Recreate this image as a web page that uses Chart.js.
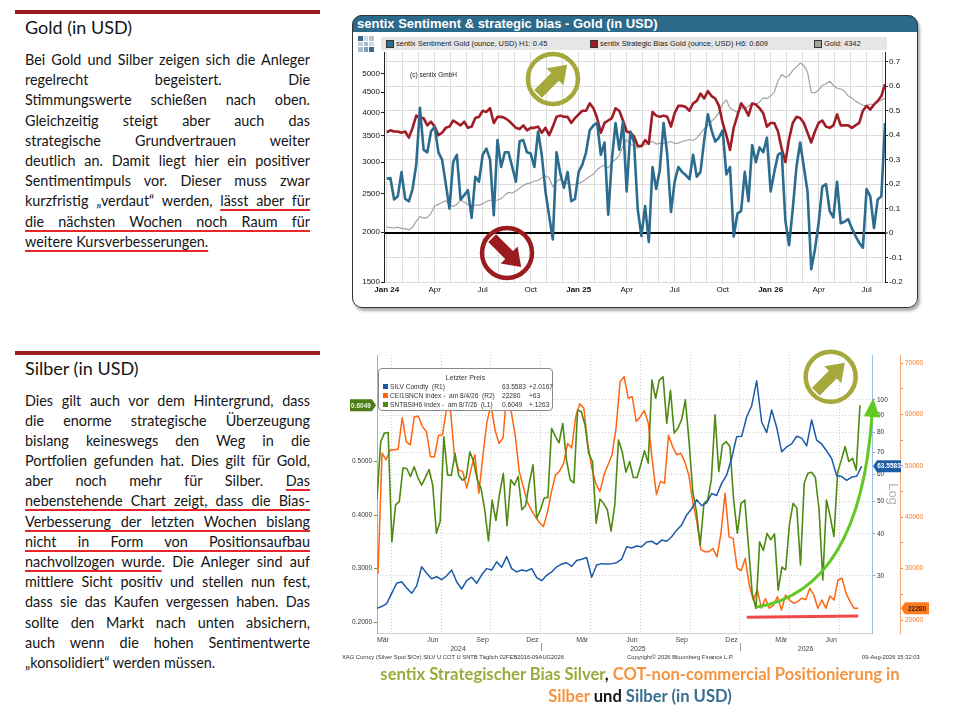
<!DOCTYPE html>
<html lang="de">
<head>
<meta charset="utf-8">
<title>sentix – Gold und Silber</title>
<script src="https://cdn.jsdelivr.net/npm/chart.js@4.4.1/dist/chart.umd.min.js"></script>
<style>
  html, body { margin: 0; padding: 0; background: #fff; }
  body { width: 974px; height: 724px; position: relative; overflow: hidden; font-family: Lato, "Open Sans", sans-serif; color: #151515; }
  .abs { position: absolute; }
  .rule { position: absolute; left: 15px; width: 305px; height: 3.5px; background: #9c1c22; }
  .head { position: absolute; left: 25px; font-size: 18px; line-height: 22px; }
  .para { position: absolute; left: 25px; width: 285px; font-size: 14.4px; }
  .para div { height: 20.2px; line-height: 20.2px; text-align: justify; text-align-last: justify; overflow: hidden; }
  .para div.last { text-align-last: left; }
  .u { text-decoration: underline; text-decoration-color: #e8262b; text-decoration-thickness: 1.6px; text-underline-offset: 3px; }

  #goldPanel { left: 352px; top: 15px; width: 566px; height: 293px; box-sizing: border-box; border: 1.5px solid #333; border-radius: 10px; box-shadow: 2px 3px 3px #aaa; }
  #goldTitle { left: 352px; top: 15px; width: 566px; height: 17px; background: #2b6a8b; border-radius: 10px 10px 0 0; color: #fff; font: bold 13px "Liberation Sans", Arial, sans-serif; line-height: 17px; text-indent: 5px; }
  #goldLegend { left: 381px; top: 37px; width: 506px; height: 13px; background: #e6e6e6; font: 7.5px "Liberation Sans", Arial, sans-serif; color: #222; }
  #goldLegend span { position: absolute; top: 0; line-height: 13px; white-space: nowrap; }
  #goldLegend i { position: absolute; top: 3px; width: 6px; height: 6px; border: 0.8px solid #333; }
  .ico { position: absolute; width: 4.5px; height: 4.5px; }
  #copyNote { left: 410px; top: 71px; font: 6.5px "Liberation Sans", Arial, sans-serif; color: #222; }

  #bbgLegend { left: 378px; top: 368px; width: 175px; height: 43px; box-sizing: border-box; border: 1px solid #8a8a8a; border-radius: 4px; background: rgba(255,255,255,0.92); font: 6.6px "Liberation Sans", Arial, sans-serif; color: #333; }
  #bbgLegend span { position: absolute; white-space: pre; line-height: 8px; }
  #bbgLegend i { position: absolute; width: 5px; height: 5px; }
  .foot { position: absolute; top: 654px; font: 5.8px "Liberation Sans", Arial, sans-serif; color: #333; white-space: nowrap; }
  #caption { left: 340px; top: 663px; width: 600px; text-align: center; font-weight: bold; font-size: 16.6px; line-height: 22px; }
</style>
</head>
<body>

<div class="rule" style="top:10px"></div>
<div class="head" style="top:15.5px">Gold (in USD)</div>
<div class="para" id="paraGold" style="top:50px"></div>

<div class="rule" style="top:351px"></div>
<div class="head" style="top:357px">Silber (in USD)</div>
<div class="para" id="paraSilver" style="top:390.5px"></div>

<div class="abs" id="goldTitle">sentix Sentiment &amp; strategic bias - Gold (in USD)</div>
<div class="abs" id="goldPanel"></div>
<div class="abs" id="goldIcon"></div>
<canvas class="abs" id="goldCanvas" width="564" height="273" style="left:353px; top:33px;"></canvas>
<div class="abs" id="goldLegend">
  <i style="left:5px; background:#2c6c8e"></i><span style="left:15px">sentix Sentiment Gold (ounce, USD) H1: 0.45</span>
  <i style="left:209px; background:#a11d26"></i><span style="left:219px">sentix Strategic Bias Gold (ounce, USD) H6: 0.609</span>
  <i style="left:433px; background:#a3a3a3"></i><span style="left:443px">Gold: 4342</span>
</div>
<div class="abs" id="copyNote">(c) sentix GmbH</div>

<canvas class="abs" id="silverCanvas" width="605" height="311" style="left:340px; top:345px;"></canvas>
<div class="abs" id="bbgLegend">
  <span style="left:0; width:173px; top:5px; text-align:center; font-size:7px">Letzter Preis</span>
  <i style="left:4px; top:15px; background:#1b5aa8"></i><span style="left:11px; top:14px">SILV Comdty  (R1)</span>
  <span style="left:123px; top:14px">63.5583</span><span style="left:150px; top:14px">+2.0167</span>
  <i style="left:4px; top:24px; background:#ff6411"></i><span style="left:11px; top:23px">CEI1SNCN Index -  am 8/4/26  (R2)</span>
  <span style="left:123px; top:23px">22280</span><span style="left:150px; top:23px">+63</span>
  <i style="left:4px; top:33px; background:#4e8a12"></i><span style="left:11px; top:32px">SNTBSIH6 Index -  am 8/7/26  (L1)</span>
  <span style="left:123px; top:32px">0.6049</span><span style="left:150px; top:32px">+.1263</span>
</div>
<div class="foot" style="left:342px">XAG Curncy (Silver Spot  $/Oz) SILV U COT U SNTB Täglich 02FEB2016-09AUG2026</div>
<div class="foot" style="left:627px">Copyright© 2026 Bloomberg Finance L.P.</div>
<div class="foot" style="left:862px">09-Aug-2026 15:32:03</div>
<div class="abs" id="caption"><span style="color:#9aab3b">sentix Strategischer Bias Silver</span>, <span style="color:#f29440">COT-non-commercial Positionierung in</span><br><span style="color:#f29440">Silber</span> und <span style="color:#3b6e90">Silber (in USD)</span></div>

<script>
// ---------- Texte ----------
const textGold = [
  'Bei Gold und Silber zeigen sich die Anleger',
  'regelrecht begeistert. Die',
  'Stimmungswerte schießen nach oben.',
  'Gleichzeitig steigt aber auch das',
  'strategische Grundvertrauen weiter',
  'deutlich an. Damit liegt hier ein positiver',
  'Sentimentimpuls vor. Dieser muss zwar',
  'kurzfristig „verdaut“ werden, <span class="u">lässt aber für</span>',
  '<span class="u">die nächsten Wochen noch Raum für</span>',
  '<span class="u">weitere Kursverbesserungen.</span>'
];
const textSilver = [
  'Dies gilt auch vor dem Hintergrund, dass',
  'die enorme strategische Überzeugung',
  'bislang keineswegs den Weg in die',
  'Portfolien gefunden hat. Dies gilt für Gold,',
  'aber noch mehr für Silber. <span class="u">Das</span>',
  '<span class="u">nebenstehende Chart zeigt, dass die Bias-</span>',
  '<span class="u">Verbesserung der letzten Wochen bislang</span>',
  '<span class="u">nicht in Form von Positionsaufbau</span>',
  '<span class="u">nachvollzogen wurde</span>. Die Anleger sind auf',
  'mittlere Sicht positiv und stellen nun fest,',
  'dass sie das Kaufen vergessen haben. Das',
  'sollte den Markt nach unten absichern,',
  'auch wenn die hohen Sentimentwerte',
  '„konsolidiert“ werden müssen.'
];

// ---------- Gold: wöchentliche Werte ab Jan 2024 ----------
const goldWeekStep = 12 / 52;          // Monate je Woche
const goldTickMonths = [0, 3, 6, 9, 12, 15, 18, 21, 24, 27, 30];
const goldTickLabels = ['Jan 24', 'Apr', 'Jul', 'Oct', 'Jan 25', 'Apr', 'Jul', 'Oct', 'Jan 26', 'Apr', 'Jul'];
const goldLeftTicks = [1500, 2000, 2500, 3000, 3500, 4000, 4500, 5000];
const goldRightTicks = [-0.2, -0.1, 0, 0.1, 0.2, 0.3, 0.4, 0.5, 0.6, 0.7];

const sentimentGold = [
  0.222, 0.225, 0.137, 0.15, 0.249, 0.14, 0.13, 0.18, 0.28, 0.512,
  0.34, 0.33, 0.415, 0.435, 0.33, 0.30, 0.20, 0.10, 0.29, 0.32,
  0.137, 0.155, 0.175, 0.062, 0.23, 0.21, 0.32, 0.345, 0.30, 0.073,
  0.38, 0.27, 0.33, 0.33, 0.27, 0.21, 0.375, 0.38, 0.33, 0.325,
  0.27, 0.415, 0.32, 0.17, 0.07, -0.026, 0.33, 0.245, 0.185, 0.25,
  0.13, 0.14, 0.25, 0.28, 0.33, 0.42, 0.44, 0.45, 0.32, 0.37,
  0.075, 0.30, 0.45, 0.34, 0.455, 0.17, 0.415, 0.37, 0.097, -0.012,
  0.11, -0.036, 0.27, 0.18, 0.26, 0.45, 0.32, 0.086, 0.21, 0.27,
  0.25, 0.237, 0.22, 0.32, 0.23, 0.25, 0.38, 0.485, 0.42, 0.374,
  0.39, 0.42, 0.24, 0.27, -0.014, 0.08, 0.09, 0.25, 0.13, 0.36,
  0.29, 0.35, 0.33, 0.39, 0.17, 0.25, 0.32, 0.33, 0.05, -0.05,
  0.10, 0.27, 0.37, 0.27, 0.17, -0.148, -0.067, 0.04, 0.19, 0.20,
  0.09, 0.064, 0.21, 0.04, 0.046, 0.057, 0.02, -0.012, -0.04, -0.06,
  0.18, 0.15, 0.02, 0.137, 0.15, 0.45
];
const biasGold = [
  0.412, 0.42, 0.415, 0.415, 0.41, 0.415, 0.39, 0.43, 0.48, 0.47,
  0.47, 0.44, 0.455, 0.435, 0.40, 0.41, 0.43, 0.435, 0.46, 0.45,
  0.44, 0.455, 0.43, 0.435, 0.47, 0.475, 0.50, 0.495, 0.51, 0.45,
  0.475, 0.475, 0.47, 0.46, 0.445, 0.43, 0.425, 0.44, 0.42, 0.43,
  0.43, 0.435, 0.41, 0.43, 0.40, 0.435, 0.475, 0.48, 0.475, 0.475,
  0.45, 0.47, 0.485, 0.50, 0.50, 0.53, 0.51, 0.47, 0.41, 0.45,
  0.46, 0.47, 0.51, 0.50, 0.46, 0.415, 0.41, 0.395, 0.357, 0.355,
  0.38, 0.365, 0.495, 0.48, 0.475, 0.48, 0.475, 0.435, 0.49, 0.52,
  0.52, 0.515, 0.50, 0.53, 0.54, 0.57, 0.55, 0.58, 0.56, 0.55,
  0.52, 0.45, 0.40, 0.34, 0.43, 0.48, 0.53, 0.51, 0.48, 0.53,
  0.525, 0.51, 0.49, 0.435, 0.45, 0.45, 0.415, 0.345, 0.29, 0.385,
  0.45, 0.475, 0.47, 0.45, 0.41, 0.37, 0.415, 0.45, 0.46, 0.435,
  0.43, 0.44, 0.485, 0.44, 0.44, 0.44, 0.43, 0.44, 0.45, 0.50,
  0.52, 0.505, 0.525, 0.54, 0.56, 0.609
];
const goldPrice = [
  2060, 2055, 2050, 2060, 2045, 2040, 2030, 2060, 2130, 2190,
  2170, 2180, 2230, 2330, 2350, 2380, 2400, 2350, 2320, 2350,
  2410, 2380, 2350, 2330, 2340, 2340, 2360, 2390, 2410, 2400,
  2410, 2430, 2480, 2520, 2510, 2540, 2580, 2620, 2650, 2660,
  2690, 2700, 2740, 2770, 2740, 2600, 2680, 2720, 2670, 2650,
  2630, 2640, 2650, 2680, 2720, 2760, 2800, 2870, 2920, 2950,
  2900, 2990, 3050, 3120, 3300, 3420, 3320, 3300, 3250, 3300,
  3320, 3350, 3380, 3330, 3350, 3340, 3360, 3380, 3340, 3350,
  3380, 3400, 3420, 3400, 3450, 3540, 3640, 3700, 3800, 3880,
  4000, 4200, 4300, 4100, 4050, 4000, 4100, 4080, 4150, 4200,
  4180, 4250, 4350, 4330, 4400, 4500, 4800, 4980, 4900, 4950,
  5100, 5200, 5320, 5250, 5050, 4500, 4480, 4550, 4680, 4720,
  4790, 4680, 4600, 4580, 4520, 4400, 4350, 4270, 4220, 4170,
  4150, 4200, 4180, 4250, 4300, 4342
];

// ---------- Silber (Monate ab Jan 2024) ----------
const silverStart = 2.12, silverStep = 0.3012;
const silverPrice = [
  24.0, 24.3, 24.8, 26.6, 28.5, 28.8, 27.6, 26.6, 28.0, 31.9,
  30.5, 29.4, 29.8, 29.2, 30.0, 31.2, 28.8, 27.4, 29.0, 29.7,
  28.5, 30.2, 31.5, 31.2, 33.0, 31.8, 34.2, 31.5, 30.8, 31.2,
  31.0, 31.5, 29.6, 29.0, 30.1, 30.8, 31.9, 32.5, 32.8, 32.0,
  33.3, 33.6, 34.0, 29.7, 32.3, 32.6, 32.5, 32.6, 32.8, 33.6,
  36.6, 36.3, 36.8, 36.6, 37.8, 38.0, 37.2, 38.3, 38.0, 39.2,
  41.0, 42.5, 45.5, 47.5, 50.5, 48.5, 49.4, 52.7, 52.0, 56.5,
  59.8, 67.1, 77.8, 78.0, 89.0, 96.0, 114.0, 86.0, 80.0, 93.4,
  83.0, 70.2, 72.5, 74.0, 78.0, 77.0, 73.0, 87.2, 76.0, 74.0,
  70.5, 67.0, 59.5, 59.2, 57.7, 59.0, 59.3, 63.5583
];
const cotStart = 2.20, cotStep = 0.2431;
const cotSilver = [
  29000, 52500, 51200, 53100, 53100, 53300, 59400, 54750, 54100, 59600,
  59700, 57700, 56700, 51800, 51800, 56000, 56100, 61300, 60600, 51500,
  49200, 48900, 45700, 49200, 52200, 44700, 52000, 58600, 61900, 57000,
  54400, 55500, 65500, 60600, 56000, 48900, 46000, 43000, 41400, 40100,
  39000, 38200, 41000, 45000, 48250, 49000, 50500, 54400, 53500, 59600,
  62100, 61300, 54100, 49600, 46500, 45000, 48250, 50250, 52200, 57400,
  66400, 67400, 63200, 63500, 58650, 59600, 60800, 58300, 50900, 44400,
  47000, 46600, 56000, 53800, 52200, 52500, 50900, 48300, 43000, 39200,
  33700, 33300, 33300, 33900, 32300, 36900, 44700, 36200, 35900, 30100,
  29600, 32000, 26800, 23900, 25900, 22300, 24200, 22300, 22900, 24550,
  21960, 24880, 23900, 23250, 23580, 24230, 24000, 26180, 24880, 22280,
  23900, 22280, 24690, 23900, 27800, 28120, 25190, 23580, 22280, 22280
];
const biasStart = 2.14, biasStep = 0.2238;
const biasSilver = [
  0.43, 0.537, 0.553, 0.554, 0.35, 0.419, 0.425, 0.488, 0.487, 0.472,
  0.49, 0.47, 0.456, 0.47, 0.485, 0.456, 0.366, 0.388, 0.546, 0.475,
  0.474, 0.515, 0.474, 0.465, 0.47, 0.518, 0.50, 0.466, 0.45, 0.41,
  0.352, 0.428, 0.39, 0.44, 0.478, 0.38, 0.466, 0.456, 0.472, 0.41,
  0.418, 0.46, 0.494, 0.394, 0.41, 0.432, 0.433, 0.562, 0.547, 0.535,
  0.571, 0.503, 0.466, 0.46, 0.596, 0.593, 0.568, 0.515, 0.50, 0.385,
  0.43, 0.422, 0.41, 0.37, 0.418, 0.54, 0.518, 0.48, 0.50, 0.47,
  0.47, 0.494, 0.52, 0.497, 0.652, 0.618, 0.652, 0.658, 0.571, 0.633,
  0.553, 0.562, 0.578, 0.615, 0.537, 0.444, 0.406, 0.344, 0.422, 0.428,
  0.466, 0.587, 0.481, 0.531, 0.537, 0.528, 0.428, 0.366, 0.422, 0.428,
  0.341, 0.254, 0.226, 0.35, 0.334, 0.366, 0.354, 0.365, 0.26, 0.303,
  0.298, 0.382, 0.422, 0.413, 0.307, 0.46, 0.478, 0.48, 0.47, 0.41,
  0.279, 0.428, 0.397, 0.36, 0.48, 0.503, 0.528, 0.50, 0.506, 0.484,
  0.6049
];
const silverMonthTicks = [2.5, 5.5, 8.5, 11.5, 14.5, 17.5, 20.5, 23.5, 26.5, 29.5];
const silverMonthLabels = ['Mär', 'Jun', 'Sep', 'Dez', 'Mär', 'Jun', 'Sep', 'Dez', 'Mär', 'Jun'];
const silverGridMonths = [3, 6, 9, 12, 15, 18, 21, 24, 27, 30];
const silverYearTicks = [7.02, 17.86, 27.96];
const silverYearLabels = ['2024', '2025', '2026'];
const silverYearBreaks = [12, 24];
const biasSilverTicks = [0.2, 0.3, 0.4, 0.5];
const silverLogTicks = [30, 40, 50, 60, 70, 80, 90, 100];
const cotTicks = [20000, 25000, 30000, 35000, 40000, 45000, 50000, 55000, 60000, 65000, 70000];

// Markierungen (in Datenkoordinaten)
const goldUpMark = [10.39, 0.63];
const goldDownMark = [7.52, -0.081];
const silverUpMark = [29.47, 0.658];
const trendCurve = { from: [25.03, 0.2285], ctrl: [31.24, 0.2603], to: [31.96, 0.587] };
const flatLine = { from: [24.41, 0.2093], to: [31.13, 0.2118] };

// ---------- Textspalte ----------
function buildPara(id, lines) {
  const el = document.getElementById(id);
  lines.forEach((l, i) => {
    const d = document.createElement('div');
    d.innerHTML = l;
    if (i === lines.length - 1) d.className = 'last';
    el.appendChild(d);
  });
}
buildPara('paraGold', textGold);
buildPara('paraSilver', textSilver);
function fitLines() {
  document.querySelectorAll('.para div').forEach(d => {
    let ls = 0;
    d.style.letterSpacing = '0px';
    while (d.scrollHeight > 22 && ls > -1.2) {
      ls -= 0.05;
      d.style.letterSpacing = ls.toFixed(2) + 'px';
    }
  });
}
fitLines();
if (document.fonts) document.fonts.ready.then(fitLines);

// kleines Logo
const iconColors = [['#3b6b91', '#d5dbe1', '#b7c3cf'], ['#c2ccd6', '#a9b8c6', '#d5dbe1'], ['#a9bccc', '#7f9fb9', '#2f6a97']];
const iconBox = document.getElementById('goldIcon');
iconColors.forEach((row, r) => row.forEach((c, k) => {
  const s = document.createElement('div');
  s.className = 'ico';
  s.style.left = (358 + k * 5.5) + 'px';
  s.style.top = (36 + r * 5.5) + 'px';
  s.style.background = c;
  iconBox.appendChild(s);
}));

function toPoints(start, step, values) {
  return values.map((v, i) => ({ x: start + i * step, y: v }));
}

function circleArrow(ctx, cx, cy, color, angle) {
  ctx.save();
  ctx.translate(cx, cy);
  ctx.strokeStyle = color;
  ctx.lineWidth = 4.5;
  ctx.beginPath();
  ctx.arc(0, 0, 25, 0, Math.PI * 2);
  ctx.stroke();
  ctx.rotate(angle);
  ctx.fillStyle = color;
  ctx.beginPath();
  ctx.moveTo(-21, -5.5); ctx.lineTo(3, -5.5); ctx.lineTo(3, -12);
  ctx.lineTo(20, 0);
  ctx.lineTo(3, 12); ctx.lineTo(3, 5.5); ctx.lineTo(-21, 5.5);
  ctx.closePath();
  ctx.fill();
  ctx.restore();
}

const arial = 'Liberation Sans, Arial, sans-serif';

// ---------- Gold-Chart ----------
const goldMarks = {
  id: 'goldMarks',
  afterDatasetsDraw(chart) {
    const { ctx, scales: { x, yR } } = chart;
    circleArrow(ctx, x.getPixelForValue(goldUpMark[0]), yR.getPixelForValue(goldUpMark[1]), '#a6a83c', -Math.PI / 4);
    circleArrow(ctx, x.getPixelForValue(goldDownMark[0]), yR.getPixelForValue(goldDownMark[1]), '#9b1c1f', Math.PI / 4);
  }
};

new Chart(document.getElementById('goldCanvas'), {
  type: 'line',
  data: {
    datasets: [
      { label: 'sentix Sentiment Gold (ounce, USD) H1', data: toPoints(0, goldWeekStep, sentimentGold), yAxisID: 'yR', borderColor: '#2c6c8e', borderWidth: 2.6 },
      { label: 'sentix Strategic Bias Gold (ounce, USD) H6', data: toPoints(0, goldWeekStep, biasGold), yAxisID: 'yR', borderColor: '#a11d26', borderWidth: 2.6 },
      { label: 'Gold', data: toPoints(0, goldWeekStep, goldPrice), yAxisID: 'yL', borderColor: '#a3a3a3', borderWidth: 1.2 }
    ]
  },
  options: {
    responsive: false,
    animation: false,
    elements: { point: { radius: 0 }, line: { tension: 0, borderJoinStyle: 'round' } },
    layout: { padding: { top: 19 } },
    plugins: { legend: { display: false }, tooltip: { enabled: false } },
    scales: {
      x: {
        type: 'linear', min: -0.17, max: 31.15,
        afterBuildTicks: s => { s.ticks = Array.from({ length: 32 }, (_, m) => ({ value: m })); },
        afterFit: s => { s.height = 24; },
        ticks: {
          autoSkip: false, maxRotation: 0, padding: 3, color: '#111',
          font: c => ({ size: 8, family: arial, weight: (c.tick && c.tick.value % 12 === 0) ? 'bold' : 'normal' }),
          callback: v => { const i = goldTickMonths.indexOf(v); return i >= 0 ? goldTickLabels[i] : ''; }
        },
        grid: { color: '#dcdcdc', drawTicks: false },
        border: { display: false }
      },
      yL: {
        type: 'logarithmic', position: 'left', min: 1500, max: 5673,
        afterBuildTicks: s => { s.ticks = goldLeftTicks.map(v => ({ value: v })); },
        afterFit: s => { s.width = 31; },
        ticks: { color: '#111', padding: 1, font: { size: 8, family: arial }, callback: v => String(v) },
        grid: { drawOnChartArea: false, tickLength: 3, tickColor: '#222' },
        border: { color: '#222', width: 1 }
      },
      yR: {
        type: 'linear', position: 'right', min: -0.2, max: 0.74,
        afterBuildTicks: s => { s.ticks = goldRightTicks.map(v => ({ value: v })); },
        afterFit: s => { s.width = 32; },
        ticks: { color: '#111', padding: 1, font: { size: 8, family: arial }, callback: v => (v === 0 ? '0' : v.toFixed(1)) },
        grid: {
          color: c => (c.tick && c.tick.value === 0 ? '#000' : '#dcdcdc'),
          lineWidth: c => (c.tick && c.tick.value === 0 ? 2 : 1),
          tickLength: 3, tickColor: '#222', tickWidth: 1
        },
        border: { color: '#222', width: 1 }
      }
    }
  },
  plugins: [goldMarks]
});

// ---------- Silber-Chart (Bloomberg) ----------
function badge(ctx, x, y, w, text, bg, fg, pointLeft) {
  ctx.save();
  ctx.fillStyle = bg;
  ctx.beginPath();
  if (pointLeft) {
    ctx.moveTo(x, y); ctx.lineTo(x + 4, y - 6); ctx.lineTo(x + w, y - 6);
    ctx.lineTo(x + w, y + 6); ctx.lineTo(x + 4, y + 6);
  } else {
    ctx.moveTo(x, y - 6); ctx.lineTo(x + w - 4, y - 6); ctx.lineTo(x + w, y);
    ctx.lineTo(x + w - 4, y + 6); ctx.lineTo(x, y + 6);
  }
  ctx.closePath();
  ctx.fill();
  ctx.fillStyle = fg;
  ctx.font = 'bold 6.5px ' + arial;
  ctx.textAlign = 'center';
  ctx.textBaseline = 'middle';
  ctx.fillText(text, x + w / 2 + (pointLeft ? 2 : -2), y + 0.5);
  ctx.restore();
}

const silverMarks = {
  id: 'silverMarks',
  afterDatasetsDraw(chart) {
    const { ctx, scales: { x, yL } } = chart;
    const px = p => ({ x: x.getPixelForValue(p[0]), y: yL.getPixelForValue(p[1]) });
    // rote Basislinie
    const a = px(flatLine.from), b = px(flatLine.to);
    ctx.save();
    ctx.strokeStyle = '#f04848';
    ctx.lineWidth = 3;
    ctx.beginPath(); ctx.moveTo(a.x, a.y); ctx.lineTo(b.x, b.y); ctx.stroke();
    // grüner Trendbogen mit Pfeilspitze
    const p0 = px(trendCurve.from), c = px(trendCurve.ctrl), p2 = px(trendCurve.to);
    ctx.strokeStyle = '#62c824';
    ctx.fillStyle = '#62c824';
    ctx.lineWidth = 3;
    ctx.beginPath(); ctx.moveTo(p0.x, p0.y); ctx.quadraticCurveTo(c.x, c.y, p2.x, p2.y); ctx.stroke();
    const ang = Math.atan2(p2.y - c.y, p2.x - c.x);
    ctx.translate(p2.x, p2.y);
    ctx.rotate(ang);
    ctx.beginPath(); ctx.moveTo(17, 0); ctx.lineTo(-2, -8); ctx.lineTo(-2, 8); ctx.closePath(); ctx.fill();
    ctx.restore();
    const m = px(silverUpMark);
    circleArrow(ctx, m.x, m.y, '#a6a83c', -Math.PI / 4);
  },
  afterDraw(chart) {
    const { ctx, scales: { x, yL, yB, yO } } = chart;
    badge(ctx, yL.right - 27, yL.getPixelForValue(biasSilver[biasSilver.length - 1]), 26, '0.6049', '#4c7d16', '#eef6dc', false);
    badge(ctx, yB.left + 1, yB.getPixelForValue(silverPrice[silverPrice.length - 1]), 28, '63.5583', '#1f5ca6', '#ffffff', true);
    badge(ctx, yO.left + 1, yO.getPixelForValue(cotSilver[cotSilver.length - 1]), 28, '22280', '#ff7a1f', '#3a1a00', true);
    ctx.save();
    ctx.strokeStyle = '#999';
    ctx.lineWidth = 1;
    silverYearBreaks.forEach(m => {
      const bx = Math.round(x.getPixelForValue(m)) + 0.5;
      ctx.beginPath(); ctx.moveTo(bx, x.top + 10); ctx.lineTo(bx, x.top + 18); ctx.stroke();
    });
    ctx.restore();
  }
};

const silverXTicks = [...silverMonthTicks, ...silverGridMonths, ...silverYearTicks].sort((p, q) => p - q);

new Chart(document.getElementById('silverCanvas'), {
  type: 'line',
  data: {
    datasets: [
      { label: 'SILV Comdty', data: toPoints(silverStart, silverStep, silverPrice), yAxisID: 'yB', borderColor: '#1b5aa8', borderWidth: 1.5 },
      { label: 'SNTBSIH6 Index', data: toPoints(biasStart, biasStep, biasSilver), yAxisID: 'yL', borderColor: '#4e8a12', borderWidth: 1.6 },
      { label: 'CEI1SNCN Index', data: toPoints(cotStart, cotStep, cotSilver), yAxisID: 'yO', borderColor: '#ff6411', borderWidth: 1.5 }
    ]
  },
  options: {
    responsive: false,
    animation: false,
    elements: { point: { radius: 0 }, line: { tension: 0, borderJoinStyle: 'round' } },
    layout: { padding: { top: 10 } },
    plugins: { legend: { display: false }, tooltip: { enabled: false } },
    scales: {
      x: {
        type: 'linear', min: 2.14, max: 31.96,
        afterBuildTicks: s => { s.ticks = silverXTicks.map(v => ({ value: v })); },
        afterFit: s => { s.height = 23; },
        ticks: {
          autoSkip: false, maxRotation: 0, minRotation: 0, padding: 3, color: '#444',
          font: { size: 7, family: arial, lineHeight: 1.25 },
          callback: v => {
            const i = silverMonthTicks.indexOf(v);
            if (i >= 0) return silverMonthLabels[i];
            const y = silverYearTicks.indexOf(v);
            if (y >= 0) return ['', silverYearLabels[y]];
            return '';
          }
        },
        grid: {
          color: c => (c.tick && silverGridMonths.includes(c.tick.value) ? '#cfcfcf' : 'rgba(0,0,0,0)'),
          drawTicks: false
        },
        border: { color: '#d0d0d0', dash: [1, 2] }
      },
      yL: {
        type: 'linear', position: 'left', min: 0.18, max: 0.6987,
        afterBuildTicks: s => { s.ticks = biasSilverTicks.map(v => ({ value: v })); },
        afterFit: s => { s.width = 37; },
        ticks: { color: '#333', padding: 2, font: { size: 6.5, family: arial }, callback: v => v.toFixed(4) },
        grid: { drawOnChartArea: false, tickLength: 3, tickColor: '#6a9a3a' },
        border: { color: '#9cc56e', width: 1 }
      },
      yB: {
        type: 'logarithmic', position: 'right', min: 20.27, max: 136.1,
        afterBuildTicks: s => { s.ticks = silverLogTicks.map(v => ({ value: v })); },
        afterFit: s => { s.width = 28; },
        ticks: { color: '#333', padding: 2, font: { size: 6.5, family: arial }, callback: v => String(v) },
        grid: { color: '#cfcfcf', tickLength: 3, tickColor: '#7fa6d6' },
        border: { color: '#9dbde3', width: 1, dash: [1, 2] },
        title: { display: true, text: 'Log', color: '#b5b5b5', font: { size: 13, family: arial }, padding: 0 }
      },
      yO: {
        type: 'linear', position: 'right', min: 17468, max: 71617,
        afterBuildTicks: s => { s.ticks = cotTicks.map(v => ({ value: v })); },
        afterFit: s => { s.width = 45; },
        ticks: { color: '#f0782a', padding: 2, font: { size: 6.5, family: arial }, callback: v => (v % 10000 === 0 ? String(v) : '') },
        grid: { drawOnChartArea: false, tickLength: 3, tickColor: '#f08a4a' },
        border: { color: '#f5a474', width: 1 }
      }
    }
  },
  plugins: [silverMarks]
});
</script>
</body>
</html>
